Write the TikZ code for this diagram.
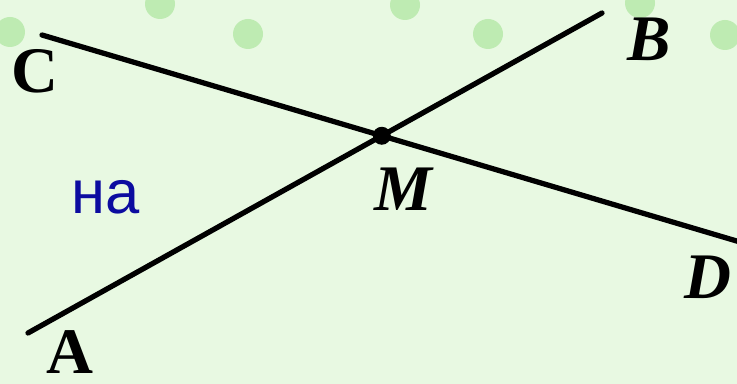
\documentclass[tikz,border=0pt]{standalone}
\usepackage{fontspec}
\setmainfont{Liberation Serif}
\newfontfamily\notefont{Liberation Sans}
\usetikzlibrary{calc}
\definecolor{slidegreen}{RGB}{232,249,226}
\definecolor{blobgreen}{RGB}{140,220,120}
\definecolor{noteblue}{RGB}{12,12,160}

\begin{document}
\begin{tikzpicture}[x=0.02cm,y=-0.02cm,
  seg/.style={line width=3pt,line cap=round},
  upt/.style={font=\fontsize{37}{37}\selectfont\bfseries,inner sep=0pt},
  ipt/.style={font=\fontsize{37}{37}\selectfont\bfseries\itshape,inner sep=0pt},
  blob/.style={fill=blobgreen,opacity=0.45},
  note/.style={font=\notefont\fontsize{35}{35}\selectfont,text=noteblue,inner sep=0pt}
]
% background
\fill[slidegreen] (0,0) rectangle (737,384);
\useasboundingbox (0,0) rectangle (737,384);
\foreach \bx/\by in {10/32,160/4,248/34,405/5,488/34,640/3,725/35}
  \fill[blob] (\bx,\by) circle[radius=15];

% the two lines
\coordinate (A) at (28,333);
\coordinate (B) at (602,13);
\coordinate (C) at (42,35);
\coordinate (D) at (740,242);
\draw[seg] (A) -- (B);
\draw[seg] (C) -- (D);
\coordinate (M) at (intersection of A--B and C--D);
\fill (M) circle[radius=9];

% letters
\node[upt] (lc) at (35,71) {C};
\node[ipt] (lb) at (649,39) {B};
\node[ipt] (lm) at (403,189) {M};
\node[ipt] (ld) at (708,277) {D};
\node[upt] (la) at (70,352) {A};
\node[note] (na) at (106,197) {на};
\end{tikzpicture}
\end{document}
